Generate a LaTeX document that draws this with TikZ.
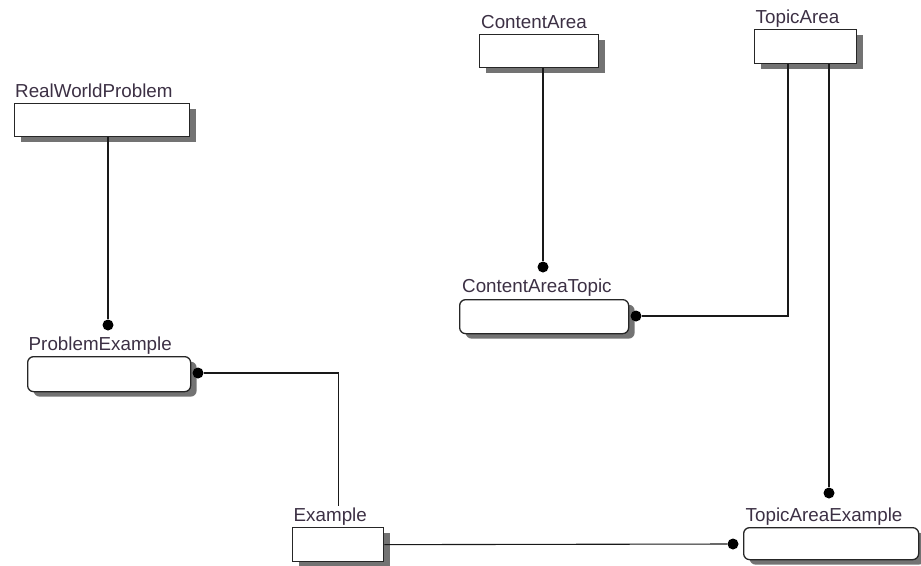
\documentclass[tikz,border=0pt]{standalone}
\usepackage{fontspec}
\setmainfont{Liberation Sans}
\usetikzlibrary{shadows}
\definecolor{lblcol}{RGB}{60,48,68}

\begin{document}
\begin{tikzpicture}[x=1pt,y=-1pt,
  ent/.style={draw=black!85,line width=1.3pt,fill=white,inner sep=0,anchor=north west,
    drop shadow={shadow xshift=6pt,shadow yshift=-5pt,fill=black!55,opacity=1}},
  dep/.style={ent,rounded corners=6pt},
  lbl/.style={anchor=base west,inner sep=2pt,text=lblcol,font=\fontsize{18.8pt}{21pt}\selectfont},
  dot/.style={circle,fill=black,inner sep=0,minimum size=11pt},
  link/.style={draw=black!90,line width=1.1pt}]
  \useasboundingbox (0,0) rectangle (921,565);
  %entities
  \node[ent,minimum width=175pt,minimum height=33pt] (rwp) at (14,103) {};
  \node[ent,minimum width=119pt,minimum height=33pt] (ca) at (479,34) {};
  \node[ent,minimum width=102pt,minimum height=34pt] (ta) at (754,29) {};
  \node[ent,minimum width=91pt,minimum height=34pt] (ex) at (292,527) {};
  \node[dep,minimum width=163pt,minimum height=35pt] (pe) at (27,356) {};
  \node[dep,minimum width=169pt,minimum height=34pt] (cat) at (459,299) {};
  \node[dep,minimum width=175pt,minimum height=32pt] (tae) at (743,527) {};
  %names
  \node[lbl] (rwpl) at ([xshift=-1pt,yshift=5.5pt]rwp.north west) {RealWorldProblem};
  \node[lbl] (cal) at ([xshift=0pt,yshift=5.5pt]ca.north west) {ContentArea};
  \node[lbl] (tal) at ([xshift=-0.5pt,yshift=5.5pt]ta.north west) {TopicArea};
  \node[lbl] (exl) at ([xshift=-0.5pt,yshift=5.5pt]ex.north west) {Example};
  \node[lbl] (pel) at ([xshift=-0.5pt,yshift=5.5pt]pe.north west) {ProblemExample};
  \node[lbl] (catl) at ([xshift=1pt,yshift=7pt]cat.north west) {ContentAreaTopic};
  \node[lbl] (tael) at ([xshift=0.5pt,yshift=6pt]tae.north west) {TopicAreaExample};
  %relationship ends
  \node[dot] (d1) at (108,325) {};
  \node[dot] (d2) at (543,267) {};
  \node[dot] (d3) at (636,316) {};
  \node[dot] (d4) at (829,493) {};
  \node[dot] (d5) at (198,373) {};
  \node[dot] (d6) at (733,544) {};
  %relationships
  \draw[link] (rwp.south -| d1) -- (d1);
  \draw[link] (ca.south -| d2) -- (d2);
  \draw[link] (d3) -| ([xshift=34pt]ta.south west);
  \draw[link] (ta.south -| d4) -- (d4);
  \draw[link] (d5) -| (exl.north -| ex.north);
  \draw[link] (ex.east) -- (d6);
\end{tikzpicture}
\end{document}
